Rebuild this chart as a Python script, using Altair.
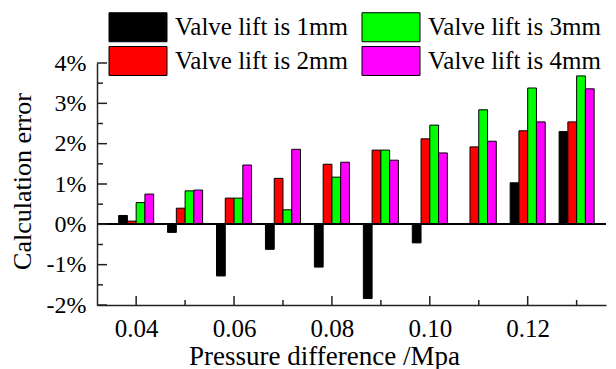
import altair as alt
import pandas as pd

# ---- data ----
pressure = [0.04, 0.05, 0.06, 0.07, 0.08, 0.09, 0.10, 0.11, 0.12, 0.13]
lift_1mm = [0.22, -0.20, -1.28, -0.62, -1.06, -1.84, -0.46, 0.02, 1.03, 2.30]
lift_2mm = [0.08, 0.40, 0.65, 1.14, 1.49, 1.84, 2.12, 1.92, 2.32, 2.54]
lift_3mm = [0.54, 0.83, 0.65, 0.36, 1.17, 1.84, 2.46, 2.84, 3.38, 3.68]
lift_4mm = [0.75, 0.85, 1.47, 1.86, 1.54, 1.59, 1.77, 2.06, 2.54, 3.36]
series_names = ["Valve lift is 1mm", "Valve lift is 2mm", "Valve lift is 3mm", "Valve lift is 4mm"]
series_colors = ["#000000", "#FF0000", "#00FF00", "#FF00FF"]
x_major = [0.04, 0.06, 0.08, 0.10, 0.12]
x_minor = [0.05, 0.07, 0.09, 0.11, 0.13]
y_major = [-2, -1, 0, 1, 2, 3, 4]
y_minor = [-1.5, -0.5, 0.5, 1.5, 2.5, 3.5]

FONT = "Liberation Serif"
W, H = 509, 242
BAR_W = 0.00179

rows = []
for k, (name, vals) in enumerate(zip(series_names, [lift_1mm, lift_2mm, lift_3mm, lift_4mm])):
    for p, v in zip(pressure, vals):
        rows.append({"p": p, "v": v, "s": name, "k": k})
df = pd.DataFrame(rows)

xscale = alt.Scale(domain=[0.032, 0.136], nice=False, zero=False)
yscale = alt.Scale(domain=[-2, 4], nice=False, zero=False)

xaxis = alt.Axis(values=x_major, format=".2f", labelPadding=11,
                 labelFontSize=25, title="Pressure difference /Mpa",
                 titleFontSize=27, titlePadding=2, titleX=227, titleAlign="center")
yaxis = alt.Axis(values=y_major, labelExpr="datum.value + '%'", labelPadding=11,
                 labelFontSize=24, title="Calculation error", titleFontSize=26,
                 titlePadding=11, titleY=118, titleAlign="center")

bars = alt.Chart(df).transform_calculate(
    x0=f"datum.p + (datum.k - 2) * {BAR_W}",
    x1=f"datum.p + (datum.k - 1) * {BAR_W}",
).mark_bar(stroke="black", strokeWidth=1).encode(
    x=alt.X("x0:Q", scale=xscale, axis=xaxis),
    x2="x1:Q",
    y=alt.Y("v:Q", scale=yscale, axis=yaxis),
    y2=alt.datum(0),
    color=alt.Color("s:N", scale=alt.Scale(domain=series_names, range=series_colors),
                    legend=alt.Legend(orient="none", legendX=26, legendY=-51, columns=2,
                                      title=None, symbolType="M-2,-1H2V1H-2Z", symbolSize=841,
                                      symbolStrokeWidth=1, symbolStrokeColor="black",
                                      symbolOpacity=1, labelFont=FONT, labelFontSize=25,
                                      labelColor="black", labelLimit=400, labelOffset=22,
                                      rowPadding=0, columnPadding=12, padding=0)),
)

zero = alt.Chart(df).mark_rule(color="black", strokeWidth=1.5).encode(
    y=alt.datum(0, scale=yscale, axis=yaxis)
)

xmaj = alt.Chart(pd.DataFrame({"t": x_major})).mark_rule(color="#222", strokeWidth=1.5).encode(
    x=alt.X("t:Q", scale=xscale, axis=xaxis), y=alt.value(H), y2=alt.value(H - 9)
)
xmin = alt.Chart(pd.DataFrame({"t": x_minor})).mark_rule(color="#222", strokeWidth=1.5).encode(
    x=alt.X("t:Q", scale=xscale, axis=xaxis), y=alt.value(H), y2=alt.value(H - 5)
)
ymaj = alt.Chart(pd.DataFrame({"t": y_major})).mark_rule(color="#222", strokeWidth=1.5).encode(
    y=alt.Y("t:Q", scale=yscale, axis=yaxis), x=alt.value(0), x2=alt.value(10)
)
ymin = alt.Chart(pd.DataFrame({"t": y_minor})).mark_rule(color="#222", strokeWidth=1.5).encode(
    y=alt.Y("t:Q", scale=yscale, axis=yaxis), x=alt.value(0), x2=alt.value(6)
)

chart = alt.layer(bars, zero, xmaj, xmin, ymaj, ymin).properties(
    width=W, height=H,
    autosize=alt.AutoSizeParams(type="none"),
    padding={"left": 89, "top": 55, "right": 2, "bottom": 64},
    background="white",
).configure_view(stroke=None).configure_axis(
    domainColor="#222", domainWidth=1.5, ticks=False, tickSize=0, grid=False,
    labelFont=FONT, titleFont=FONT, labelColor="black", titleColor="black",
    titleFontWeight="normal",
)

chart.save("out.html", embed_options={"renderer": "svg", "actions": False})
